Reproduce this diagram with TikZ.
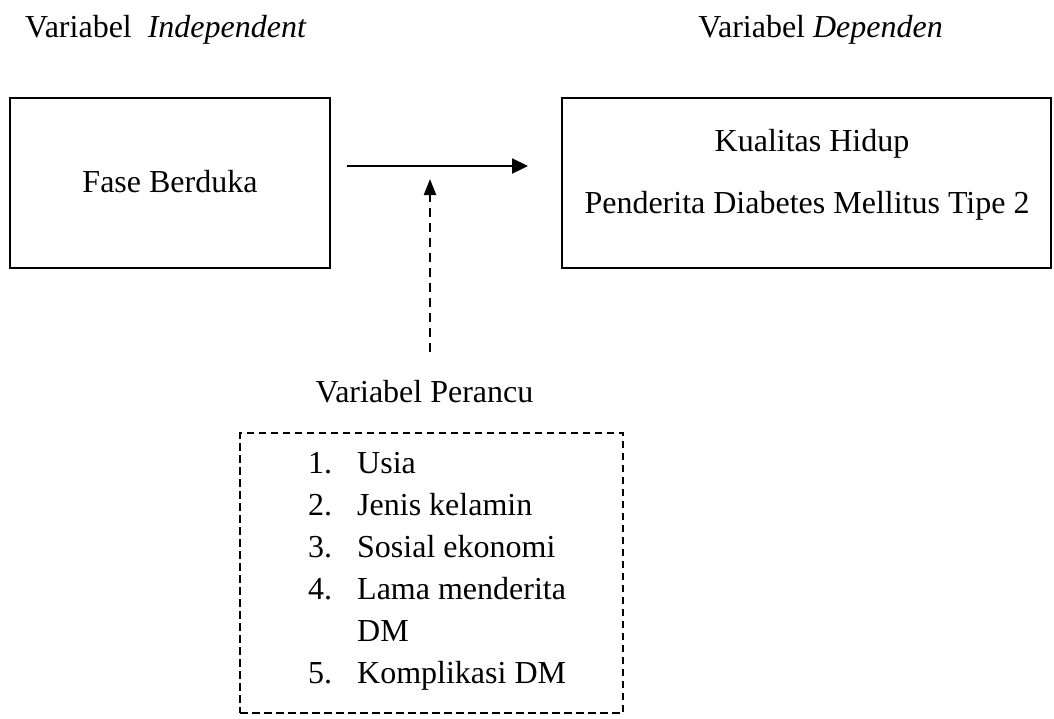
\documentclass[tikz,border=0pt]{standalone}
\usepackage{fontspec}
\setmainfont{Liberation Serif}
\usetikzlibrary{arrows.meta}
\begin{document}
\begin{tikzpicture}[x=1pt,y=-1pt,
  solidbox/.style={draw, line width=2.6pt, inner sep=0pt},
  dashbox/.style={draw, line width=1.5pt, dash pattern=on 7.5pt off 4.5pt, inner sep=0pt},
  txt/.style={font=\fontsize{32}{38}\selectfont, inner sep=0pt, anchor=base},
  arr/.style={line width=2.2pt, -{Triangle[length=16pt,width=15pt]}},
  darr/.style={line width=2.2pt, dash pattern=on 9pt off 6pt, -{Triangle[length=16pt,width=12pt]}}]
\useasboundingbox (0,0) rectangle (1054,718);
% headings
\node[txt, anchor=base west] (indep) at (25,37) {Variabel\ \ \textit{Independent}};
\node[txt, anchor=base east] (dep) at (943,37) {Variabel \textit{Dependen}};
% boxes
\node[solidbox, minimum width=320pt, minimum height=170pt] (fase) at (170,183) {};
\node[solidbox, minimum width=489pt, minimum height=170pt] (kual) at (806.5,183) {};
\node[dashbox, minimum width=383pt, minimum height=280pt] (peran) at (431.5,573) {};
% box texts
\node[txt] (fasetxt) at (170,192) {Fase Berduka};
\node[txt] (kualtxt1) at (812,151) {Kualitas Hidup};
\node[txt] (kualtxt2) at (807,213) {Penderita Diabetes Mellitus Tipe 2};
\node[txt] (perancu) at (424.5,402) {Variabel Perancu};
% list
\node[txt, anchor=base west] (n1) at (308,473) {1.};
\node[txt, anchor=base west] (t1) at (357,473) {Usia};
\node[txt, anchor=base west] (n2) at (308,515) {2.};
\node[txt, anchor=base west] (t2) at (357,515) {Jenis kelamin};
\node[txt, anchor=base west] (n3) at (308,557) {3.};
\node[txt, anchor=base west] (t3) at (357,557) {Sosial ekonomi};
\node[txt, anchor=base west] (n4) at (308,599) {4.};
\node[txt, anchor=base west] (t4) at (357,599) {Lama menderita};
\node[txt, anchor=base west] (t4b) at (357,641) {DM};
\node[txt, anchor=base west] (n5) at (308,683) {5.};
\node[txt, anchor=base west] (t5) at (357,683) {Komplikasi DM};
% connectors
\coordinate (a1) at (347,166);
\coordinate (a2) at (528,166);
\coordinate (d1) at (430,352);
\coordinate (d2) at (430,179);
\draw[arr] (a1) -- (a2);
\draw[darr] (d1) -- (d2);
\end{tikzpicture}
\end{document}
